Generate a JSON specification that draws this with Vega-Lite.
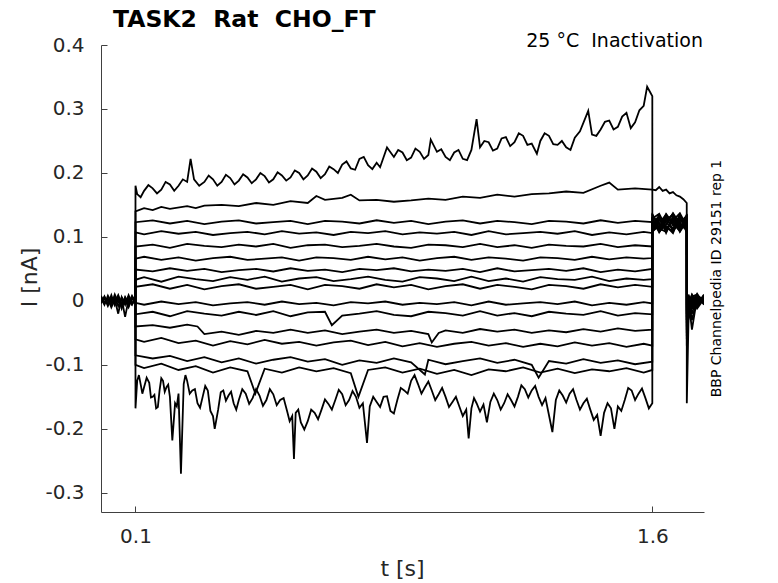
{
"$schema":"https://vega.github.io/schema/vega-lite/v6.json",
"width":603,"height":467,
"autosize":{"type":"none"},
"padding":{"left":101,"top":45,"right":74,"bottom":71},
"config":{"view":{"stroke":null},"font":"DejaVu Sans"},
"layer":[
{"data":{"values":[
{"s":1,"t":0,"i":0.004},{"s":1,"t":0.01,"i":-0.006},{"s":1,"t":0.02,"i":0.008},{"s":1,"t":0.03,"i":-0.002},{"s":1,"t":0.04,"i":0.006},{"s":1,"t":0.05,"i":-0.008},{"s":1,"t":0.06,"i":0.005},{"s":1,"t":0.07,"i":-0.003},{"s":1,"t":0.08,"i":0.007},{"s":1,"t":0.09,"i":-0.005},{"s":1,"t":0.1,"i":0.003},
{"s":1,"t":0.1001,"i":0.18},{"s":1,"t":0.105,"i":0.167},{"s":1,"t":0.125,"i":0.172},{"s":1,"t":0.15,"i":0.176},{"s":1,"t":0.175,"i":0.174},{"s":1,"t":0.2,"i":0.182},{"s":1,"t":0.225,"i":0.18},{"s":1,"t":0.25,"i":0.186},{"s":1,"t":0.26,"i":0.222},{"s":1,"t":0.27,"i":0.19},{"s":1,"t":0.3,"i":0.186},{"s":1,"t":0.325,"i":0.19},{"s":1,"t":0.35,"i":0.186},{"s":1,"t":0.375,"i":0.192},{"s":1,"t":0.4,"i":0.188},{"s":1,"t":0.425,"i":0.193},{"s":1,"t":0.45,"i":0.19},{"s":1,"t":0.475,"i":0.195},{"s":1,"t":0.5,"i":0.19},{"s":1,"t":0.525,"i":0.196},{"s":1,"t":0.55,"i":0.193},{"s":1,"t":0.575,"i":0.2},{"s":1,"t":0.6,"i":0.196},{"s":1,"t":0.625,"i":0.202},{"s":1,"t":0.65,"i":0.198},{"s":1,"t":0.675,"i":0.206},{"s":1,"t":0.7,"i":0.213},{"s":1,"t":0.725,"i":0.207},{"s":1,"t":0.75,"i":0.222},{"s":1,"t":0.775,"i":0.212},{"s":1,"t":0.8,"i":0.216},{"s":1,"t":0.81,"i":0.209},{"s":1,"t":0.83,"i":0.24},{"s":1,"t":0.85,"i":0.225},{"s":1,"t":0.875,"i":0.232},{"s":1,"t":0.9,"i":0.224},{"s":1,"t":0.925,"i":0.233},{"s":1,"t":0.95,"i":0.228},{"s":1,"t":0.957,"i":0.252},{"s":1,"t":0.975,"i":0.233},{"s":1,"t":1,"i":0.225},{"s":1,"t":1.025,"i":0.232},{"s":1,"t":1.05,"i":0.222},{"s":1,"t":1.075,"i":0.236},{"s":1,"t":1.09,"i":0.284},{"s":1,"t":1.1,"i":0.24},{"s":1,"t":1.125,"i":0.248},{"s":1,"t":1.15,"i":0.238},{"s":1,"t":1.175,"i":0.256},{"s":1,"t":1.2,"i":0.248},{"s":1,"t":1.225,"i":0.258},{"s":1,"t":1.25,"i":0.246},{"s":1,"t":1.265,"i":0.23},{"s":1,"t":1.275,"i":0.25},{"s":1,"t":1.3,"i":0.258},{"s":1,"t":1.325,"i":0.244},{"s":1,"t":1.35,"i":0.24},{"s":1,"t":1.375,"i":0.255},{"s":1,"t":1.39,"i":0.265},{"s":1,"t":1.414,"i":0.297},{"s":1,"t":1.425,"i":0.26},{"s":1,"t":1.45,"i":0.268},{"s":1,"t":1.475,"i":0.282},{"s":1,"t":1.5,"i":0.272},{"s":1,"t":1.525,"i":0.294},{"s":1,"t":1.55,"i":0.279},{"s":1,"t":1.575,"i":0.305},{"s":1,"t":1.585,"i":0.335},{"s":1,"t":1.595,"i":0.325},{"s":1,"t":1.6,"i":0.32},
{"s":1,"t":0.115,"i":0.162},{"s":1,"t":0.1375,"i":0.181},{"s":1,"t":0.1625,"i":0.168},{"s":1,"t":0.1875,"i":0.186},{"s":1,"t":0.2125,"i":0.172},{"s":1,"t":0.2375,"i":0.19},{"s":1,"t":0.285,"i":0.18},{"s":1,"t":0.3125,"i":0.196},{"s":1,"t":0.3375,"i":0.18},{"s":1,"t":0.3625,"i":0.197},{"s":1,"t":0.3875,"i":0.182},{"s":1,"t":0.4125,"i":0.198},{"s":1,"t":0.4375,"i":0.184},{"s":1,"t":0.4625,"i":0.2},{"s":1,"t":0.4875,"i":0.185},{"s":1,"t":0.5125,"i":0.201},{"s":1,"t":0.5375,"i":0.188},{"s":1,"t":0.5625,"i":0.204},{"s":1,"t":0.5875,"i":0.19},{"s":1,"t":0.6125,"i":0.207},{"s":1,"t":0.6375,"i":0.192},{"s":1,"t":0.6625,"i":0.21},{"s":1,"t":0.6875,"i":0.2},{"s":1,"t":0.7125,"i":0.218},{"s":1,"t":0.7375,"i":0.205},{"s":1,"t":0.7625,"i":0.225},{"s":1,"t":0.7875,"i":0.206},{"s":1,"t":0.8625,"i":0.236},{"s":1,"t":0.8875,"i":0.22},{"s":1,"t":0.9125,"i":0.238},{"s":1,"t":0.9375,"i":0.222},{"s":1,"t":0.9875,"i":0.237},{"s":1,"t":1.0125,"i":0.22},{"s":1,"t":1.0375,"i":0.236},{"s":1,"t":1.0625,"i":0.22},{"s":1,"t":1.1125,"i":0.25},{"s":1,"t":1.1375,"i":0.235},{"s":1,"t":1.1625,"i":0.254},{"s":1,"t":1.1875,"i":0.242},{"s":1,"t":1.2125,"i":0.262},{"s":1,"t":1.2375,"i":0.244},{"s":1,"t":1.2875,"i":0.262},{"s":1,"t":1.3125,"i":0.245},{"s":1,"t":1.3375,"i":0.25},{"s":1,"t":1.3625,"i":0.236},{"s":1,"t":1.4375,"i":0.258},{"s":1,"t":1.4625,"i":0.28},{"s":1,"t":1.4875,"i":0.268},{"s":1,"t":1.5125,"i":0.288},{"s":1,"t":1.5375,"i":0.27},{"s":1,"t":1.5625,"i":0.298},
{"s":1,"t":1.6001,"i":0.125},{"s":1,"t":1.62,"i":0.112},{"s":1,"t":1.64,"i":0.133},{"s":1,"t":1.66,"i":0.108},{"s":1,"t":1.68,"i":0.128},{"s":1,"t":1.6999,"i":0.118},{"s":1,"t":1.7001,"i":-0.06},{"s":1,"t":1.705,"i":-0.01},{"s":1,"t":1.715,"i":0.006},{"s":1,"t":1.73,"i":-0.004},{"s":1,"t":1.75,"i":0.008},
{"s":2,"t":0,"i":-0.004},{"s":2,"t":0.01,"i":0.007},{"s":2,"t":0.02,"i":-0.005},{"s":2,"t":0.03,"i":0.009},{"s":2,"t":0.04,"i":-0.007},{"s":2,"t":0.05,"i":0.003},{"s":2,"t":0.06,"i":-0.009},{"s":2,"t":0.07,"i":0.006},{"s":2,"t":0.08,"i":-0.004},{"s":2,"t":0.09,"i":0.008},{"s":2,"t":0.1,"i":-0.002},
{"s":2,"t":0.1001,"i":0.14},{"s":2,"t":0.125,"i":0.145},{"s":2,"t":0.15,"i":0.142},{"s":2,"t":0.175,"i":0.147},{"s":2,"t":0.2,"i":0.144},{"s":2,"t":0.25,"i":0.148},{"s":2,"t":0.275,"i":0.145},{"s":2,"t":0.3,"i":0.149},{"s":2,"t":0.35,"i":0.15},{"s":2,"t":0.4,"i":0.148},{"s":2,"t":0.45,"i":0.153},{"s":2,"t":0.5,"i":0.15},{"s":2,"t":0.55,"i":0.156},{"s":2,"t":0.6,"i":0.153},{"s":2,"t":0.625,"i":0.164},{"s":2,"t":0.65,"i":0.158},{"s":2,"t":0.7,"i":0.161},{"s":2,"t":0.725,"i":0.166},{"s":2,"t":0.75,"i":0.157},{"s":2,"t":0.8,"i":0.158},{"s":2,"t":0.85,"i":0.155},{"s":2,"t":0.9,"i":0.157},{"s":2,"t":0.95,"i":0.16},{"s":2,"t":1,"i":0.158},{"s":2,"t":1.05,"i":0.163},{"s":2,"t":1.1,"i":0.161},{"s":2,"t":1.15,"i":0.166},{"s":2,"t":1.2,"i":0.163},{"s":2,"t":1.25,"i":0.167},{"s":2,"t":1.3,"i":0.168},{"s":2,"t":1.35,"i":0.171},{"s":2,"t":1.4,"i":0.169},{"s":2,"t":1.45,"i":0.18},{"s":2,"t":1.475,"i":0.185},{"s":2,"t":1.5,"i":0.174},{"s":2,"t":1.55,"i":0.176},{"s":2,"t":1.6,"i":0.174},
{"s":2,"t":1.61,"i":0.173},{"s":2,"t":1.62,"i":0.178},{"s":2,"t":1.63,"i":0.172},{"s":2,"t":1.64,"i":0.174},{"s":2,"t":1.65,"i":0.168},{"s":2,"t":1.66,"i":0.17},{"s":2,"t":1.67,"i":0.165},{"s":2,"t":1.68,"i":0.163},{"s":2,"t":1.69,"i":0.159},{"s":2,"t":1.6999,"i":0.153},{"s":2,"t":1.7001,"i":-0.16},{"s":2,"t":1.705,"i":-0.03},{"s":2,"t":1.715,"i":-0.005},{"s":2,"t":1.73,"i":0.007},{"s":2,"t":1.75,"i":-0.002},
{"s":3,"t":0,"i":0.006},{"s":3,"t":0.01,"i":-0.002},{"s":3,"t":0.02,"i":0.004},{"s":3,"t":0.03,"i":-0.01},{"s":3,"t":0.04,"i":0.002},{"s":3,"t":0.05,"i":-0.02},{"s":3,"t":0.06,"i":0.006},{"s":3,"t":0.07,"i":-0.006},{"s":3,"t":0.08,"i":0.009},{"s":3,"t":0.09,"i":-0.004},{"s":3,"t":0.1,"i":0.005},
{"s":3,"t":0.1001,"i":0.123},{"s":3,"t":0.15,"i":0.126},{"s":3,"t":0.2,"i":0.121},{"s":3,"t":0.25,"i":0.125},{"s":3,"t":0.3,"i":0.12},{"s":3,"t":0.35,"i":0.124},{"s":3,"t":0.4,"i":0.126},{"s":3,"t":0.45,"i":0.121},{"s":3,"t":0.5,"i":0.123},{"s":3,"t":0.55,"i":0.125},{"s":3,"t":0.6,"i":0.12},{"s":3,"t":0.65,"i":0.125},{"s":3,"t":0.7,"i":0.124},{"s":3,"t":0.75,"i":0.121},{"s":3,"t":0.8,"i":0.126},{"s":3,"t":0.85,"i":0.122},{"s":3,"t":0.9,"i":0.125},{"s":3,"t":0.95,"i":0.12},{"s":3,"t":1,"i":0.124},{"s":3,"t":1.05,"i":0.126},{"s":3,"t":1.1,"i":0.121},{"s":3,"t":1.15,"i":0.125},{"s":3,"t":1.2,"i":0.123},{"s":3,"t":1.25,"i":0.12},{"s":3,"t":1.3,"i":0.125},{"s":3,"t":1.35,"i":0.124},{"s":3,"t":1.4,"i":0.121},{"s":3,"t":1.45,"i":0.126},{"s":3,"t":1.5,"i":0.122},{"s":3,"t":1.55,"i":0.125},{"s":3,"t":1.6,"i":0.123},
{"s":3,"t":1.6001,"i":0.118},{"s":3,"t":1.62,"i":0.134},{"s":3,"t":1.64,"i":0.11},{"s":3,"t":1.66,"i":0.127},{"s":3,"t":1.68,"i":0.115},{"s":3,"t":1.6999,"i":0.131},{"s":3,"t":1.7001,"i":-0.04},{"s":3,"t":1.705,"i":0.004},{"s":3,"t":1.715,"i":-0.02},{"s":3,"t":1.73,"i":0.009},{"s":3,"t":1.75,"i":-0.005},
{"s":4,"t":0,"i":-0.002},{"s":4,"t":0.01,"i":0.005},{"s":4,"t":0.02,"i":-0.008},{"s":4,"t":0.03,"i":0.004},{"s":4,"t":0.04,"i":-0.004},{"s":4,"t":0.05,"i":0.007},{"s":4,"t":0.06,"i":-0.012},{"s":4,"t":0.07,"i":0.004},{"s":4,"t":0.08,"i":-0.008},{"s":4,"t":0.09,"i":0.006},{"s":4,"t":0.1,"i":0},
{"s":4,"t":0.1001,"i":0.107},{"s":4,"t":0.125,"i":0.104},{"s":4,"t":0.175,"i":0.109},{"s":4,"t":0.225,"i":0.105},{"s":4,"t":0.275,"i":0.108},{"s":4,"t":0.325,"i":0.103},{"s":4,"t":0.375,"i":0.106},{"s":4,"t":0.425,"i":0.108},{"s":4,"t":0.475,"i":0.104},{"s":4,"t":0.525,"i":0.109},{"s":4,"t":0.575,"i":0.105},{"s":4,"t":0.625,"i":0.107},{"s":4,"t":0.675,"i":0.103},{"s":4,"t":0.725,"i":0.108},{"s":4,"t":0.775,"i":0.106},{"s":4,"t":0.825,"i":0.109},{"s":4,"t":0.875,"i":0.104},{"s":4,"t":0.925,"i":0.107},{"s":4,"t":0.975,"i":0.105},{"s":4,"t":1.025,"i":0.108},{"s":4,"t":1.075,"i":0.103},{"s":4,"t":1.125,"i":0.109},{"s":4,"t":1.175,"i":0.104},{"s":4,"t":1.225,"i":0.106},{"s":4,"t":1.275,"i":0.108},{"s":4,"t":1.325,"i":0.105},{"s":4,"t":1.375,"i":0.109},{"s":4,"t":1.425,"i":0.103},{"s":4,"t":1.475,"i":0.107},{"s":4,"t":1.525,"i":0.104},{"s":4,"t":1.575,"i":0.108},{"s":4,"t":1.6,"i":0.106},
{"s":4,"t":1.6001,"i":0.131},{"s":4,"t":1.62,"i":0.107},{"s":4,"t":1.64,"i":0.124},{"s":4,"t":1.66,"i":0.136},{"s":4,"t":1.68,"i":0.112},{"s":4,"t":1.6999,"i":0.122},{"s":4,"t":1.7001,"i":-0.02},{"s":4,"t":1.705,"i":-0.006},{"s":4,"t":1.715,"i":0.01},{"s":4,"t":1.73,"i":-0.003},{"s":4,"t":1.75,"i":0.004},
{"s":5,"t":0,"i":0.008},{"s":5,"t":0.01,"i":-0.004},{"s":5,"t":0.02,"i":0.002},{"s":5,"t":0.03,"i":-0.006},{"s":5,"t":0.04,"i":0.01},{"s":5,"t":0.05,"i":-0.002},{"s":5,"t":0.06,"i":0.003},{"s":5,"t":0.07,"i":-0.025},{"s":5,"t":0.08,"i":0.002},{"s":5,"t":0.09,"i":-0.006},{"s":5,"t":0.1,"i":0.004},
{"s":5,"t":0.1001,"i":0.085},{"s":5,"t":0.15,"i":0.088},{"s":5,"t":0.2,"i":0.083},{"s":5,"t":0.25,"i":0.089},{"s":5,"t":0.3,"i":0.086},{"s":5,"t":0.35,"i":0.084},{"s":5,"t":0.4,"i":0.088},{"s":5,"t":0.45,"i":0.085},{"s":5,"t":0.5,"i":0.089},{"s":5,"t":0.55,"i":0.083},{"s":5,"t":0.6,"i":0.087},{"s":5,"t":0.65,"i":0.088},{"s":5,"t":0.7,"i":0.084},{"s":5,"t":0.75,"i":0.086},{"s":5,"t":0.8,"i":0.089},{"s":5,"t":0.85,"i":0.085},{"s":5,"t":0.9,"i":0.083},{"s":5,"t":0.95,"i":0.088},{"s":5,"t":1,"i":0.087},{"s":5,"t":1.05,"i":0.084},{"s":5,"t":1.1,"i":0.089},{"s":5,"t":1.15,"i":0.084},{"s":5,"t":1.2,"i":0.087},{"s":5,"t":1.25,"i":0.083},{"s":5,"t":1.3,"i":0.088},{"s":5,"t":1.35,"i":0.086},{"s":5,"t":1.4,"i":0.085},{"s":5,"t":1.45,"i":0.089},{"s":5,"t":1.5,"i":0.084},{"s":5,"t":1.55,"i":0.087},{"s":5,"t":1.6,"i":0.085},
{"s":5,"t":1.6001,"i":0.11},{"s":5,"t":1.62,"i":0.128},{"s":5,"t":1.64,"i":0.117},{"s":5,"t":1.66,"i":0.106},{"s":5,"t":1.68,"i":0.133},{"s":5,"t":1.6999,"i":0.114},{"s":5,"t":1.7001,"i":-0.05},{"s":5,"t":1.705,"i":0.008},{"s":5,"t":1.715,"i":-0.004},{"s":5,"t":1.73,"i":0.011},{"s":5,"t":1.75,"i":-0.006},
{"s":6,"t":0,"i":0},{"s":6,"t":0.01,"i":0.006},{"s":6,"t":0.02,"i":-0.006},{"s":6,"t":0.03,"i":0.002},{"s":6,"t":0.04,"i":-0.003},{"s":6,"t":0.05,"i":0.009},{"s":6,"t":0.06,"i":-0.005},{"s":6,"t":0.07,"i":0.001},{"s":6,"t":0.08,"i":-0.01},{"s":6,"t":0.09,"i":0.004},{"s":6,"t":0.1,"i":-0.003},
{"s":6,"t":0.1001,"i":0.066},{"s":6,"t":0.125,"i":0.069},{"s":6,"t":0.175,"i":0.064},{"s":6,"t":0.225,"i":0.068},{"s":6,"t":0.275,"i":0.063},{"s":6,"t":0.325,"i":0.067},{"s":6,"t":0.375,"i":0.069},{"s":6,"t":0.425,"i":0.064},{"s":6,"t":0.475,"i":0.066},{"s":6,"t":0.525,"i":0.068},{"s":6,"t":0.575,"i":0.063},{"s":6,"t":0.625,"i":0.068},{"s":6,"t":0.675,"i":0.067},{"s":6,"t":0.725,"i":0.064},{"s":6,"t":0.775,"i":0.069},{"s":6,"t":0.825,"i":0.065},{"s":6,"t":0.875,"i":0.068},{"s":6,"t":0.925,"i":0.063},{"s":6,"t":0.975,"i":0.067},{"s":6,"t":1.025,"i":0.069},{"s":6,"t":1.075,"i":0.064},{"s":6,"t":1.125,"i":0.068},{"s":6,"t":1.175,"i":0.066},{"s":6,"t":1.225,"i":0.063},{"s":6,"t":1.275,"i":0.068},{"s":6,"t":1.325,"i":0.067},{"s":6,"t":1.375,"i":0.064},{"s":6,"t":1.425,"i":0.069},{"s":6,"t":1.475,"i":0.065},{"s":6,"t":1.525,"i":0.068},{"s":6,"t":1.575,"i":0.066},{"s":6,"t":1.6,"i":0.067},
{"s":6,"t":1.6001,"i":0.127},{"s":6,"t":1.62,"i":0.115},{"s":6,"t":1.64,"i":0.136},{"s":6,"t":1.66,"i":0.121},{"s":6,"t":1.68,"i":0.109},{"s":6,"t":1.6999,"i":0.129},{"s":6,"t":1.7001,"i":-0.01},{"s":6,"t":1.705,"i":-0.015},{"s":6,"t":1.715,"i":0.003},{"s":6,"t":1.73,"i":-0.008},{"s":6,"t":1.75,"i":0.009},
{"s":7,"t":0.1,"i":0.004},
{"s":7,"t":0.1001,"i":0.049},{"s":7,"t":0.15,"i":0.046},{"s":7,"t":0.2,"i":0.051},{"s":7,"t":0.25,"i":0.047},{"s":7,"t":0.3,"i":0.05},{"s":7,"t":0.35,"i":0.045},{"s":7,"t":0.4,"i":0.048},{"s":7,"t":0.45,"i":0.05},{"s":7,"t":0.5,"i":0.046},{"s":7,"t":0.55,"i":0.051},{"s":7,"t":0.6,"i":0.047},{"s":7,"t":0.65,"i":0.049},{"s":7,"t":0.7,"i":0.045},{"s":7,"t":0.75,"i":0.05},{"s":7,"t":0.8,"i":0.048},{"s":7,"t":0.85,"i":0.051},{"s":7,"t":0.9,"i":0.046},{"s":7,"t":0.95,"i":0.049},{"s":7,"t":1,"i":0.047},{"s":7,"t":1.05,"i":0.05},{"s":7,"t":1.1,"i":0.045},{"s":7,"t":1.15,"i":0.051},{"s":7,"t":1.2,"i":0.046},{"s":7,"t":1.25,"i":0.048},{"s":7,"t":1.3,"i":0.05},{"s":7,"t":1.35,"i":0.047},{"s":7,"t":1.4,"i":0.051},{"s":7,"t":1.45,"i":0.045},{"s":7,"t":1.5,"i":0.049},{"s":7,"t":1.55,"i":0.046},{"s":7,"t":1.6,"i":0.05},
{"s":7,"t":1.6001,"i":0.115},{"s":7,"t":1.62,"i":0.132},{"s":7,"t":1.64,"i":0.106},{"s":7,"t":1.66,"i":0.13},{"s":7,"t":1.68,"i":0.119},{"s":7,"t":1.6999,"i":0.111},{"s":7,"t":1.7001,"i":-0.03},{"s":7,"t":1.705,"i":0.002},{"s":7,"t":1.715,"i":-0.045},{"s":7,"t":1.73,"i":0.005},{"s":7,"t":1.75,"i":0.001},
{"s":8,"t":0.1,"i":-0.003},
{"s":8,"t":0.1001,"i":0.033},{"s":8,"t":0.125,"i":0.037},{"s":8,"t":0.175,"i":0.03},{"s":8,"t":0.225,"i":0.038},{"s":8,"t":0.275,"i":0.034},{"s":8,"t":0.325,"i":0.031},{"s":8,"t":0.375,"i":0.037},{"s":8,"t":0.425,"i":0.033},{"s":8,"t":0.475,"i":0.038},{"s":8,"t":0.525,"i":0.03},{"s":8,"t":0.575,"i":0.035},{"s":8,"t":0.625,"i":0.037},{"s":8,"t":0.675,"i":0.031},{"s":8,"t":0.725,"i":0.034},{"s":8,"t":0.775,"i":0.038},{"s":8,"t":0.825,"i":0.033},{"s":8,"t":0.875,"i":0.03},{"s":8,"t":0.925,"i":0.037},{"s":8,"t":0.975,"i":0.035},{"s":8,"t":1.025,"i":0.031},{"s":8,"t":1.075,"i":0.038},{"s":8,"t":1.125,"i":0.031},{"s":8,"t":1.175,"i":0.035},{"s":8,"t":1.225,"i":0.03},{"s":8,"t":1.275,"i":0.037},{"s":8,"t":1.325,"i":0.034},{"s":8,"t":1.375,"i":0.033},{"s":8,"t":1.425,"i":0.038},{"s":8,"t":1.475,"i":0.031},{"s":8,"t":1.525,"i":0.035},{"s":8,"t":1.575,"i":0.033},{"s":8,"t":1.6,"i":0.034},
{"s":8,"t":1.6001,"i":0.134},{"s":8,"t":1.62,"i":0.12},{"s":8,"t":1.64,"i":0.113},{"s":8,"t":1.66,"i":0.126},{"s":8,"t":1.68,"i":0.137},{"s":8,"t":1.6999,"i":0.117},{"s":8,"t":1.7001,"i":-0.045},{"s":8,"t":1.705,"i":-0.004},{"s":8,"t":1.715,"i":0.009},{"s":8,"t":1.73,"i":-0.01},{"s":8,"t":1.75,"i":0.006},
{"s":9,"t":0.1,"i":0.006},
{"s":9,"t":0.1001,"i":0.022},{"s":9,"t":0.15,"i":0.026},{"s":9,"t":0.2,"i":0.019},{"s":9,"t":0.25,"i":0.025},{"s":9,"t":0.3,"i":0.018},{"s":9,"t":0.35,"i":0.023},{"s":9,"t":0.4,"i":0.026},{"s":9,"t":0.45,"i":0.019},{"s":9,"t":0.5,"i":0.022},{"s":9,"t":0.55,"i":0.025},{"s":9,"t":0.6,"i":0.018},{"s":9,"t":0.65,"i":0.025},{"s":9,"t":0.7,"i":0.023},{"s":9,"t":0.75,"i":0.019},{"s":9,"t":0.8,"i":0.026},{"s":9,"t":0.85,"i":0.021},{"s":9,"t":0.9,"i":0.025},{"s":9,"t":0.95,"i":0.018},{"s":9,"t":1,"i":0.023},{"s":9,"t":1.05,"i":0.026},{"s":9,"t":1.1,"i":0.019},{"s":9,"t":1.15,"i":0.025},{"s":9,"t":1.2,"i":0.022},{"s":9,"t":1.25,"i":0.018},{"s":9,"t":1.3,"i":0.025},{"s":9,"t":1.35,"i":0.023},{"s":9,"t":1.4,"i":0.019},{"s":9,"t":1.45,"i":0.026},{"s":9,"t":1.5,"i":0.021},{"s":9,"t":1.55,"i":0.025},{"s":9,"t":1.6,"i":0.022},
{"s":9,"t":1.6001,"i":0.107},{"s":9,"t":1.62,"i":0.125},{"s":9,"t":1.64,"i":0.131},{"s":9,"t":1.66,"i":0.111},{"s":9,"t":1.68,"i":0.122},{"s":9,"t":1.6999,"i":0.133},{"s":9,"t":1.7001,"i":-0.015},{"s":9,"t":1.705,"i":0.01},{"s":9,"t":1.715,"i":-0.007},{"s":9,"t":1.73,"i":0.003},{"s":9,"t":1.75,"i":-0.003},
{"s":10,"t":0.1,"i":-0.001},
{"s":10,"t":0.1001,"i":-0.003},{"s":10,"t":0.125,"i":-0.006},{"s":10,"t":0.175,"i":-0.001},{"s":10,"t":0.225,"i":-0.005},{"s":10,"t":0.275,"i":-0.002},{"s":10,"t":0.325,"i":-0.007},{"s":10,"t":0.375,"i":-0.004},{"s":10,"t":0.425,"i":-0.002},{"s":10,"t":0.475,"i":-0.006},{"s":10,"t":0.525,"i":-0.001},{"s":10,"t":0.575,"i":-0.005},{"s":10,"t":0.625,"i":-0.003},{"s":10,"t":0.675,"i":-0.007},{"s":10,"t":0.725,"i":-0.002},{"s":10,"t":0.775,"i":-0.004},{"s":10,"t":0.825,"i":-0.001},{"s":10,"t":0.875,"i":-0.006},{"s":10,"t":0.925,"i":-0.003},{"s":10,"t":0.975,"i":-0.005},{"s":10,"t":1.025,"i":-0.002},{"s":10,"t":1.075,"i":-0.007},{"s":10,"t":1.125,"i":-0.001},{"s":10,"t":1.175,"i":-0.006},{"s":10,"t":1.225,"i":-0.004},{"s":10,"t":1.275,"i":-0.002},{"s":10,"t":1.325,"i":-0.005},{"s":10,"t":1.375,"i":-0.001},{"s":10,"t":1.425,"i":-0.007},{"s":10,"t":1.475,"i":-0.003},{"s":10,"t":1.525,"i":-0.006},{"s":10,"t":1.575,"i":-0.002},{"s":10,"t":1.6,"i":-0.004},
{"s":10,"t":1.6001,"i":0.122},{"s":10,"t":1.62,"i":0.11},{"s":10,"t":1.64,"i":0.127},{"s":10,"t":1.66,"i":0.134},{"s":10,"t":1.68,"i":0.108},{"s":10,"t":1.6999,"i":0.125},{"s":10,"t":1.7001,"i":-0.025},{"s":10,"t":1.705,"i":-0.02},{"s":10,"t":1.715,"i":0.004},{"s":10,"t":1.73,"i":0.008},{"s":10,"t":1.75,"i":0.002},
{"s":11,"t":0.1,"i":0.002},
{"s":11,"t":0.1001,"i":-0.021},{"s":11,"t":0.15,"i":-0.017},{"s":11,"t":0.2,"i":-0.024},{"s":11,"t":0.25,"i":-0.016},{"s":11,"t":0.3,"i":-0.02},{"s":11,"t":0.35,"i":-0.023},{"s":11,"t":0.4,"i":-0.017},{"s":11,"t":0.45,"i":-0.022},{"s":11,"t":0.5,"i":-0.016},{"s":11,"t":0.55,"i":-0.024},{"s":11,"t":0.6,"i":-0.018},{"s":11,"t":0.65,"i":-0.017},{"s":11,"t":0.67,"i":-0.038},{"s":11,"t":0.7,"i":-0.023},{"s":11,"t":0.75,"i":-0.02},{"s":11,"t":0.8,"i":-0.016},{"s":11,"t":0.85,"i":-0.022},{"s":11,"t":0.9,"i":-0.024},{"s":11,"t":0.95,"i":-0.017},{"s":11,"t":1,"i":-0.019},{"s":11,"t":1.05,"i":-0.023},{"s":11,"t":1.1,"i":-0.016},{"s":11,"t":1.15,"i":-0.023},{"s":11,"t":1.2,"i":-0.019},{"s":11,"t":1.25,"i":-0.024},{"s":11,"t":1.3,"i":-0.017},{"s":11,"t":1.35,"i":-0.02},{"s":11,"t":1.4,"i":-0.022},{"s":11,"t":1.45,"i":-0.016},{"s":11,"t":1.5,"i":-0.023},{"s":11,"t":1.55,"i":-0.019},{"s":11,"t":1.6,"i":-0.021},
{"s":11,"t":1.6001,"i":0.129},{"s":11,"t":1.62,"i":0.136},{"s":11,"t":1.64,"i":0.115},{"s":11,"t":1.66,"i":0.109},{"s":11,"t":1.68,"i":0.126},{"s":11,"t":1.6999,"i":0.12},{"s":11,"t":1.7001,"i":-0.035},{"s":11,"t":1.705,"i":0.005},{"s":11,"t":1.715,"i":-0.012},{"s":11,"t":1.73,"i":-0.002},{"s":11,"t":1.75,"i":0.007},
{"s":12,"t":0.1,"i":0.007},
{"s":12,"t":0.1001,"i":-0.04},{"s":12,"t":0.15,"i":-0.038},{"s":12,"t":0.2,"i":-0.042},{"s":12,"t":0.25,"i":-0.037},{"s":12,"t":0.28,"i":-0.04},{"s":12,"t":0.3,"i":-0.052},{"s":12,"t":0.35,"i":-0.048},{"s":12,"t":0.4,"i":-0.053},{"s":12,"t":0.45,"i":-0.047},{"s":12,"t":0.5,"i":-0.05},{"s":12,"t":0.55,"i":-0.045},{"s":12,"t":0.6,"i":-0.05},{"s":12,"t":0.65,"i":-0.046},{"s":12,"t":0.7,"i":-0.052},{"s":12,"t":0.75,"i":-0.048},{"s":12,"t":0.8,"i":-0.045},{"s":12,"t":0.85,"i":-0.05},{"s":12,"t":0.9,"i":-0.047},{"s":12,"t":0.95,"i":-0.052},{"s":12,"t":0.96,"i":-0.065},{"s":12,"t":0.98,"i":-0.05},{"s":12,"t":1,"i":-0.046},{"s":12,"t":1.05,"i":-0.05},{"s":12,"t":1.1,"i":-0.044},{"s":12,"t":1.15,"i":-0.048},{"s":12,"t":1.2,"i":-0.045},{"s":12,"t":1.25,"i":-0.05},{"s":12,"t":1.3,"i":-0.046},{"s":12,"t":1.35,"i":-0.049},{"s":12,"t":1.4,"i":-0.044},{"s":12,"t":1.45,"i":-0.048},{"s":12,"t":1.5,"i":-0.043},{"s":12,"t":1.55,"i":-0.047},{"s":12,"t":1.6,"i":-0.045},
{"s":12,"t":1.6001,"i":0.112},{"s":12,"t":1.62,"i":0.121},{"s":12,"t":1.64,"i":0.135},{"s":12,"t":1.66,"i":0.118},{"s":12,"t":1.68,"i":0.131},{"s":12,"t":1.6999,"i":0.107},{"s":12,"t":1.7001,"i":-0.005},{"s":12,"t":1.705,"i":-0.008},{"s":12,"t":1.715,"i":0.007},{"s":12,"t":1.73,"i":0.01},{"s":12,"t":1.75,"i":-0.004},
{"s":13,"t":0.1,"i":-0.004},
{"s":13,"t":0.1001,"i":-0.06},{"s":13,"t":0.125,"i":-0.064},{"s":13,"t":0.175,"i":-0.058},{"s":13,"t":0.225,"i":-0.066},{"s":13,"t":0.275,"i":-0.062},{"s":13,"t":0.325,"i":-0.07},{"s":13,"t":0.375,"i":-0.063},{"s":13,"t":0.425,"i":-0.068},{"s":13,"t":0.475,"i":-0.061},{"s":13,"t":0.525,"i":-0.067},{"s":13,"t":0.575,"i":-0.064},{"s":13,"t":0.625,"i":-0.07},{"s":13,"t":0.675,"i":-0.065},{"s":13,"t":0.725,"i":-0.062},{"s":13,"t":0.775,"i":-0.069},{"s":13,"t":0.825,"i":-0.064},{"s":13,"t":0.875,"i":-0.071},{"s":13,"t":0.925,"i":-0.066},{"s":13,"t":0.975,"i":-0.072},{"s":13,"t":1.025,"i":-0.067},{"s":13,"t":1.075,"i":-0.064},{"s":13,"t":1.125,"i":-0.07},{"s":13,"t":1.175,"i":-0.066},{"s":13,"t":1.225,"i":-0.072},{"s":13,"t":1.275,"i":-0.067},{"s":13,"t":1.325,"i":-0.071},{"s":13,"t":1.375,"i":-0.065},{"s":13,"t":1.425,"i":-0.07},{"s":13,"t":1.475,"i":-0.066},{"s":13,"t":1.525,"i":-0.072},{"s":13,"t":1.575,"i":-0.067},{"s":13,"t":1.6,"i":-0.07},
{"s":13,"t":1.6001,"i":0.136},{"s":13,"t":1.62,"i":0.113},{"s":13,"t":1.64,"i":0.108},{"s":13,"t":1.66,"i":0.132},{"s":13,"t":1.68,"i":0.116},{"s":13,"t":1.6999,"i":0.127},{"s":13,"t":1.7001,"i":-0.055},{"s":13,"t":1.705,"i":0.003},{"s":13,"t":1.715,"i":-0.03},{"s":13,"t":1.73,"i":0.004},{"s":13,"t":1.75,"i":0.005},
{"s":14,"t":0.1,"i":0.003},
{"s":14,"t":0.1001,"i":-0.085},{"s":14,"t":0.15,"i":-0.09},{"s":14,"t":0.2,"i":-0.086},{"s":14,"t":0.25,"i":-0.094},{"s":14,"t":0.3,"i":-0.088},{"s":14,"t":0.35,"i":-0.096},{"s":14,"t":0.4,"i":-0.09},{"s":14,"t":0.45,"i":-0.098},{"s":14,"t":0.5,"i":-0.092},{"s":14,"t":0.55,"i":-0.088},{"s":14,"t":0.6,"i":-0.095},{"s":14,"t":0.65,"i":-0.091},{"s":14,"t":0.7,"i":-0.1},{"s":14,"t":0.75,"i":-0.093},{"s":14,"t":0.8,"i":-0.097},{"s":14,"t":0.85,"i":-0.09},{"s":14,"t":0.9,"i":-0.096},{"s":14,"t":0.94,"i":-0.115},{"s":14,"t":0.95,"i":-0.092},{"s":14,"t":1,"i":-0.099},{"s":14,"t":1.05,"i":-0.094},{"s":14,"t":1.1,"i":-0.09},{"s":14,"t":1.15,"i":-0.097},{"s":14,"t":1.2,"i":-0.092},{"s":14,"t":1.25,"i":-0.1},{"s":14,"t":1.27,"i":-0.12},{"s":14,"t":1.3,"i":-0.094},{"s":14,"t":1.35,"i":-0.098},{"s":14,"t":1.4,"i":-0.091},{"s":14,"t":1.45,"i":-0.097},{"s":14,"t":1.5,"i":-0.093},{"s":14,"t":1.55,"i":-0.099},{"s":14,"t":1.6,"i":-0.095},
{"s":14,"t":1.6001,"i":0.12},{"s":14,"t":1.62,"i":0.13},{"s":14,"t":1.64,"i":0.122},{"s":14,"t":1.66,"i":0.113},{"s":14,"t":1.68,"i":0.135},{"s":14,"t":1.6999,"i":0.11},{"s":14,"t":1.7001,"i":-0.02},{"s":14,"t":1.705,"i":-0.012},{"s":14,"t":1.715,"i":0.002},{"s":14,"t":1.73,"i":-0.006},{"s":14,"t":1.75,"i":0.01},
{"s":15,"t":0.1,"i":-0.002},
{"s":15,"t":0.1001,"i":-0.1},{"s":15,"t":0.125,"i":-0.105},{"s":15,"t":0.175,"i":-0.098},{"s":15,"t":0.225,"i":-0.108},{"s":15,"t":0.275,"i":-0.102},{"s":15,"t":0.325,"i":-0.112},{"s":15,"t":0.375,"i":-0.104},{"s":15,"t":0.425,"i":-0.11},{"s":15,"t":0.448,"i":-0.145},{"s":15,"t":0.475,"i":-0.106},{"s":15,"t":0.525,"i":-0.112},{"s":15,"t":0.575,"i":-0.104},{"s":15,"t":0.625,"i":-0.11},{"s":15,"t":0.675,"i":-0.105},{"s":15,"t":0.725,"i":-0.113},{"s":15,"t":0.747,"i":-0.15},{"s":15,"t":0.775,"i":-0.108},{"s":15,"t":0.825,"i":-0.104},{"s":15,"t":0.875,"i":-0.112},{"s":15,"t":0.925,"i":-0.106},{"s":15,"t":0.975,"i":-0.114},{"s":15,"t":1.025,"i":-0.108},{"s":15,"t":1.075,"i":-0.116},{"s":15,"t":1.125,"i":-0.107},{"s":15,"t":1.175,"i":-0.11},{"s":15,"t":1.225,"i":-0.104},{"s":15,"t":1.275,"i":-0.112},{"s":15,"t":1.325,"i":-0.106},{"s":15,"t":1.375,"i":-0.113},{"s":15,"t":1.425,"i":-0.107},{"s":15,"t":1.475,"i":-0.11},{"s":15,"t":1.525,"i":-0.105},{"s":15,"t":1.575,"i":-0.112},{"s":15,"t":1.6,"i":-0.108},
{"s":15,"t":1.6001,"i":0.109},{"s":15,"t":1.62,"i":0.117},{"s":15,"t":1.64,"i":0.129},{"s":15,"t":1.66,"i":0.124},{"s":15,"t":1.68,"i":0.11},{"s":15,"t":1.6999,"i":0.135},{"s":15,"t":1.7001,"i":-0.03},{"s":15,"t":1.705,"i":0.007},{"s":15,"t":1.715,"i":-0.01},{"s":15,"t":1.73,"i":0.006},{"s":15,"t":1.75,"i":-0.001},
{"s":16,"t":0.1,"i":0.005},
{"s":16,"t":0.1001,"i":-0.168},{"s":16,"t":0.105,"i":-0.125},{"s":16,"t":0.115,"i":-0.13},{"s":16,"t":0.125,"i":-0.135},{"s":16,"t":0.14,"i":-0.128},{"s":16,"t":0.15,"i":-0.15},{"s":16,"t":0.16,"i":-0.168},{"s":16,"t":0.17,"i":-0.14},{"s":16,"t":0.18,"i":-0.125},{"s":16,"t":0.19,"i":-0.135},{"s":16,"t":0.2,"i":-0.15},{"s":16,"t":0.207,"i":-0.218},{"s":16,"t":0.215,"i":-0.16},{"s":16,"t":0.225,"i":-0.145},{"s":16,"t":0.232,"i":-0.27},{"s":16,"t":0.24,"i":-0.13},{"s":16,"t":0.25,"i":-0.125},{"s":16,"t":0.265,"i":-0.14},{"s":16,"t":0.28,"i":-0.16},{"s":16,"t":0.295,"i":-0.15},{"s":16,"t":0.31,"i":-0.14},{"s":16,"t":0.325,"i":-0.18},{"s":16,"t":0.33,"i":-0.2},{"s":16,"t":0.34,"i":-0.17},{"s":16,"t":0.355,"i":-0.14},{"s":16,"t":0.37,"i":-0.148},{"s":16,"t":0.385,"i":-0.16},{"s":16,"t":0.4,"i":-0.155},{"s":16,"t":0.42,"i":-0.145},{"s":16,"t":0.44,"i":-0.152},{"s":16,"t":0.46,"i":-0.148},{"s":16,"t":0.48,"i":-0.155},{"s":16,"t":0.5,"i":-0.146},{"s":16,"t":0.52,"i":-0.155},{"s":16,"t":0.54,"i":-0.172},{"s":16,"t":0.555,"i":-0.18},{"s":16,"t":0.56,"i":-0.247},{"s":16,"t":0.565,"i":-0.175},{"s":16,"t":0.58,"i":-0.19},{"s":16,"t":0.6,"i":-0.188},{"s":16,"t":0.62,"i":-0.175},{"s":16,"t":0.64,"i":-0.17},{"s":16,"t":0.66,"i":-0.161},{"s":16,"t":0.68,"i":-0.155},{"s":16,"t":0.7,"i":-0.146},{"s":16,"t":0.72,"i":-0.155},{"s":16,"t":0.74,"i":-0.15},{"s":16,"t":0.76,"i":-0.16},{"s":16,"t":0.772,"i":-0.222},{"s":16,"t":0.78,"i":-0.165},{"s":16,"t":0.8,"i":-0.158},{"s":16,"t":0.82,"i":-0.15},{"s":16,"t":0.84,"i":-0.172},{"s":16,"t":0.86,"i":-0.155},{"s":16,"t":0.88,"i":-0.14},{"s":16,"t":0.9,"i":-0.125},{"s":16,"t":0.92,"i":-0.13},{"s":16,"t":0.94,"i":-0.135},{"s":16,"t":0.96,"i":-0.14},{"s":16,"t":0.98,"i":-0.146},{"s":16,"t":1,"i":-0.15},{"s":16,"t":1.02,"i":-0.158},{"s":16,"t":1.04,"i":-0.165},{"s":16,"t":1.06,"i":-0.17},{"s":16,"t":1.067,"i":-0.215},{"s":16,"t":1.075,"i":-0.168},{"s":16,"t":1.09,"i":-0.16},{"s":16,"t":1.11,"i":-0.162},{"s":16,"t":1.12,"i":-0.19},{"s":16,"t":1.13,"i":-0.158},{"s":16,"t":1.15,"i":-0.155},{"s":16,"t":1.17,"i":-0.16},{"s":16,"t":1.19,"i":-0.155},{"s":16,"t":1.21,"i":-0.15},{"s":16,"t":1.23,"i":-0.138},{"s":16,"t":1.25,"i":-0.14},{"s":16,"t":1.27,"i":-0.15},{"s":16,"t":1.29,"i":-0.152},{"s":16,"t":1.31,"i":-0.205},{"s":16,"t":1.32,"i":-0.155},{"s":16,"t":1.34,"i":-0.148},{"s":16,"t":1.36,"i":-0.145},{"s":16,"t":1.38,"i":-0.155},{"s":16,"t":1.4,"i":-0.16},{"s":16,"t":1.42,"i":-0.17},{"s":16,"t":1.44,"i":-0.178},{"s":16,"t":1.45,"i":-0.211},{"s":16,"t":1.46,"i":-0.175},{"s":16,"t":1.48,"i":-0.168},{"s":16,"t":1.49,"i":-0.2},{"s":16,"t":1.5,"i":-0.165},{"s":16,"t":1.52,"i":-0.155},{"s":16,"t":1.54,"i":-0.14},{"s":16,"t":1.56,"i":-0.145},{"s":16,"t":1.58,"i":-0.152},{"s":16,"t":1.6,"i":-0.16},
{"s":16,"t":0.11,"i":-0.116},{"s":16,"t":0.12,"i":-0.145},{"s":16,"t":0.1325,"i":-0.12},{"s":16,"t":0.145,"i":-0.151},{"s":16,"t":0.155,"i":-0.147},{"s":16,"t":0.165,"i":-0.166},{"s":16,"t":0.175,"i":-0.121},{"s":16,"t":0.185,"i":-0.142},{"s":16,"t":0.195,"i":-0.131},{"s":16,"t":0.22,"i":-0.165},{"s":16,"t":0.245,"i":-0.116},{"s":16,"t":0.2575,"i":-0.145},{"s":16,"t":0.2725,"i":-0.138},{"s":16,"t":0.2875,"i":-0.167},{"s":16,"t":0.3025,"i":-0.133},{"s":16,"t":0.3175,"i":-0.172},{"s":16,"t":0.3475,"i":-0.143},{"s":16,"t":0.3625,"i":-0.156},{"s":16,"t":0.3775,"i":-0.142},{"s":16,"t":0.3925,"i":-0.17},{"s":16,"t":0.41,"i":-0.138},{"s":16,"t":0.43,"i":-0.161},{"s":16,"t":0.45,"i":-0.138},{"s":16,"t":0.47,"i":-0.164},{"s":16,"t":0.49,"i":-0.138},{"s":16,"t":0.51,"i":-0.163},{"s":16,"t":0.53,"i":-0.152},{"s":16,"t":0.5475,"i":-0.188},{"s":16,"t":0.5725,"i":-0.17},{"s":16,"t":0.59,"i":-0.201},{"s":16,"t":0.61,"i":-0.17},{"s":16,"t":0.63,"i":-0.185},{"s":16,"t":0.65,"i":-0.154},{"s":16,"t":0.67,"i":-0.17},{"s":16,"t":0.69,"i":-0.139},{"s":16,"t":0.71,"i":-0.163},{"s":16,"t":0.73,"i":-0.141},{"s":16,"t":0.75,"i":-0.167},{"s":16,"t":0.79,"i":-0.15},{"s":16,"t":0.81,"i":-0.166},{"s":16,"t":0.83,"i":-0.149},{"s":16,"t":0.85,"i":-0.176},{"s":16,"t":0.87,"i":-0.136},{"s":16,"t":0.89,"i":-0.145},{"s":16,"t":0.91,"i":-0.116},{"s":16,"t":0.93,"i":-0.145},{"s":16,"t":0.95,"i":-0.126},{"s":16,"t":0.97,"i":-0.155},{"s":16,"t":0.99,"i":-0.136},{"s":16,"t":1.01,"i":-0.166},{"s":16,"t":1.03,"i":-0.15},{"s":16,"t":1.05,"i":-0.18},{"s":16,"t":1.0825,"i":-0.152},{"s":16,"t":1.1,"i":-0.173},{"s":16,"t":1.14,"i":-0.145},{"s":16,"t":1.16,"i":-0.17},{"s":16,"t":1.18,"i":-0.146},{"s":16,"t":1.2,"i":-0.165},{"s":16,"t":1.22,"i":-0.132},{"s":16,"t":1.24,"i":-0.151},{"s":16,"t":1.26,"i":-0.133},{"s":16,"t":1.28,"i":-0.163},{"s":16,"t":1.33,"i":-0.14},{"s":16,"t":1.35,"i":-0.159},{"s":16,"t":1.37,"i":-0.138},{"s":16,"t":1.39,"i":-0.17},{"s":16,"t":1.41,"i":-0.153},{"s":16,"t":1.43,"i":-0.186},{"s":16,"t":1.47,"i":-0.16},{"s":16,"t":1.51,"i":-0.172},{"s":16,"t":1.53,"i":-0.136},{"s":16,"t":1.55,"i":-0.155},{"s":16,"t":1.57,"i":-0.137},{"s":16,"t":1.59,"i":-0.168},
{"s":16,"t":1.6001,"i":0.126},{"s":16,"t":1.62,"i":0.108},{"s":16,"t":1.64,"i":0.119},{"s":16,"t":1.66,"i":0.137},{"s":16,"t":1.68,"i":0.121},{"s":16,"t":1.6999,"i":0.113},{"s":16,"t":1.7001,"i":-0.07},{"s":16,"t":1.705,"i":-0.025},{"s":16,"t":1.715,"i":0.005},{"s":16,"t":1.73,"i":-0.012},{"s":16,"t":1.75,"i":0.003}
]},
"mark":{"type":"line","color":"#000000","strokeWidth":1.8,"clip":true},
"encoding":{
"x":{"field":"t","type":"quantitative","scale":{"domain":[0,1.75],"nice":false,"zero":false},
"axis":{"values":[0.1,1.6],"labelExpr":"toString(round(datum.value*10)/10)","title":"t [s]","titleX":301,"titleY":63,"titleBaseline":"alphabetic","titleAlign":"center","titleFontSize":22,"titleFontWeight":"normal","titleColor":"#262626","labelFontSize":20,"labelColor":"#262626","labelFont":"DejaVu Sans","titleFont":"DejaVu Sans","tickSize":-6,"labelPadding":20,"domainColor":"#404040","tickColor":"#404040","grid":false,"labelFlush":false}},
"y":{"field":"i","type":"quantitative","scale":{"domain":[-0.33,0.4],"nice":false,"zero":false},
"axis":{"values":[-0.3,-0.2,-0.1,0,0.1,0.2,0.3,0.4],"labelExpr":"toString(round(datum.value*10)/10)","title":"I [nA]","titleX":-65,"titleY":232,"titleAngle":-90,"titleBaseline":"alphabetic","titleAlign":"center","titleFontSize":22,"titleFontWeight":"normal","titleColor":"#262626","labelFontSize":20,"labelColor":"#262626","labelFont":"DejaVu Sans","titleFont":"DejaVu Sans","tickSize":-6,"labelPadding":23,"domainColor":"#404040","tickColor":"#404040","grid":false,"labelFlush":false}},
"detail":{"field":"s","type":"nominal"}}},
{"data":{"values":[{"label":"TASK2 \u00a0Rat \u00a0CHO_FT"}]},
"mark":{"type":"text","align":"left","baseline":"alphabetic","dx":12,"dy":-18,"fontSize":23.5,"fontWeight":"bold","font":"DejaVu Sans","color":"#000000","clip":false},
"encoding":{"x":{"datum":0,"type":"quantitative"},"y":{"datum":0.4,"type":"quantitative"},"text":{"field":"label"}}},
{"data":{"values":[{"label":"25 °C \u00a0Inactivation"}]},
"mark":{"type":"text","align":"right","baseline":"alphabetic","dx":-1,"dy":2,"fontSize":19,"font":"DejaVu Sans","color":"#000000","clip":false},
"encoding":{"x":{"datum":1.75,"type":"quantitative"},"y":{"datum":0.4,"type":"quantitative"},"text":{"field":"label"}}},
{"data":{"values":[{"label":"BBP Channelpedia ID 29151 rep 1"}]},
"mark":{"type":"text","align":"center","baseline":"middle","angle":270,"fontSize":14,"font":"DejaVu Sans","color":"#000000","clip":false},
"encoding":{"x":{"datum":1.7886,"type":"quantitative"},"y":{"datum":0.035,"type":"quantitative"},"text":{"field":"label"}}}
]
}
